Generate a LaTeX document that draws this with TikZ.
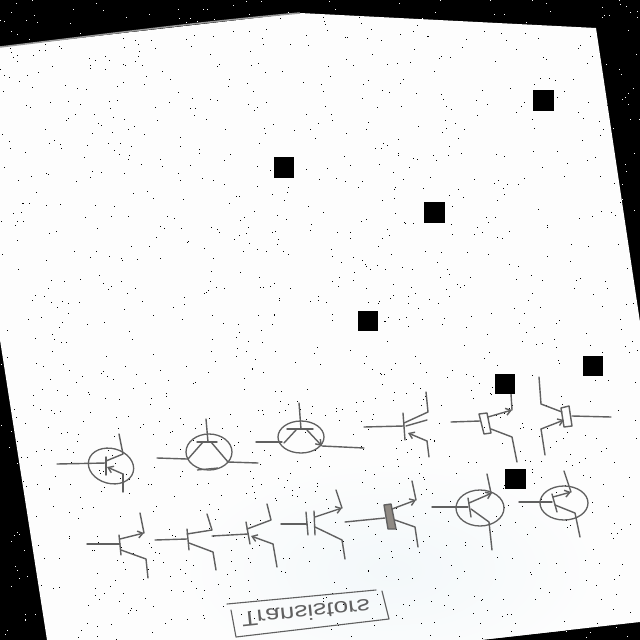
\documentclass[tikz,border=0pt]{standalone}
\usepackage{fontspec}
\setmainfont{Liberation Sans}
\usetikzlibrary{arrows.meta}
\definecolor{ink}{HTML}{606060}
\definecolor{pagecol}{HTML}{FDFDFD}
\definecolor{tint}{HTML}{F3F8FA}
\definecolor{boxgrey}{HTML}{8F8A84}
\tikzset{
  wire/.style={draw=ink,line width=1.4pt,line cap=round,line join=round},
  tipped/.style={wire,-{Straight Barb[length=5pt,width=7pt]}},
  ring/.style={draw=ink,line width=1.3pt},
  hole/.style={fill=black,draw=none},
  x=1pt,y=-1pt
}
\begin{document}
\begin{tikzpicture}
\useasboundingbox (0,0) rectangle (640,640);
\fill[black] (0,0) rectangle (640,640);
\pgfmathsetseed{731}
\foreach \i in {1,...,1400}{
  \pgfmathsetmacro{\px}{random(0,639)}
  \pgfmathsetmacro{\py}{random(0,639)}
  \fill[white] (\px,\py) rectangle ++(1,1);
}
% sheet
\fill[pagecol] (0,47) -- (300,13) -- (596,28) -- (640,322) -- (640,622) -- (480,640) -- (47,640) -- (0,340) -- cycle;
\begin{scope}
  \clip (0,47) -- (300,13) -- (596,28) -- (640,322) -- (640,622) -- (480,640) -- (47,640) -- (0,340) -- cycle;
  \shade[inner color=tint,outer color=pagecol] (390,570) ellipse [x radius=210pt,y radius=110pt];
  \pgfmathsetseed{2024}
  \foreach \i in {1,...,1300}{
    \pgfmathsetmacro{\px}{random(0,639)}
    \pgfmathsetmacro{\py}{random(0,639)}
    \fill[black] (\px,\py) rectangle ++(1,1);
  }
\end{scope}
\draw[draw=gray!80,line width=1.5pt] (0,47) .. controls (100,35) and (200,22) .. (300,13);

% top row
\draw[ring] (111,466) ellipse [x radius=23pt,y radius=17.5pt,rotate=-15];
\draw[wire] (57,464) -- (106,463);
\draw[wire] (106,457) -- (106,475);
\draw[wire] (106,461) -- (123,454) -- (119,434);
\draw[wire] (123,492) -- (123,474);
\draw[tipped] (123,474) -- (107,467);

\draw[ring] (209,452) ellipse [x radius=23pt,y radius=18pt];
\draw[wire] (157,458) -- (187,459);
\draw[wire] (228,462) -- (258,463);
\draw[wire] (206,419) -- (208,442);
\draw[wire] (197,442) -- (217,442);
\draw[wire] (203,442) -- (188,459);
\draw[wire] (211,442) -- (228,462);
\draw[ring] (197,470) -- (218,468);

\draw[ring] (301,437) ellipse [x radius=23pt,y radius=16pt];
\draw[wire] (256,442) -- (282,442);
\draw[wire] (322,446) -- (364,448);
\draw[wire] (299,403) -- (301,429);
\draw[wire] (287,429) -- (313,429);
\draw[wire] (296,430) -- (284,443);
\draw[tipped] (307,430) -- (322,446);

\draw[wire] (364,427) -- (404,426);
\draw[wire] (403,413) -- (405,440);
\draw[wire] (404,423) -- (428,412) -- (426,392);
\draw[wire] (406,426) -- (427,420);
\draw[wire] (429,457) -- (427,441);
\draw[tipped] (427,441) -- (408,433);

\draw[wire] (451,422) -- (480,421);
\draw[wire] (479,414) -- (487,413) -- (491,433) -- (484,434) -- cycle;
\draw[wire] (511,394) -- (512,410);
\draw[tipped] (488,417) -- (512,410);
\draw[wire] (491,429) -- (512,437) -- (517,462);

\draw[wire] (572,416) -- (611,417);
\draw[wire] (561,408) -- (569,406) -- (572,426) -- (564,427) -- cycle;
\draw[wire] (539,377) -- (541,404) -- (562,412);
\draw[wire] (545,455) -- (541,429);
\draw[tipped] (541,429) -- (564,420);

% bottom row
\draw[wire] (87,544) -- (120,544);
\draw[wire] (119,535) -- (121,555);
\draw[wire] (140,513) -- (144,533);
\draw[tipped] (120,539) -- (144,533);
\draw[wire] (121,550) -- (146,559) -- (148,578);

\draw[wire] (155,540) -- (187,539);
\draw[wire] (187,529) -- (189,550);
\draw[wire] (187,534) -- (212,530) -- (207,514);
\draw[wire] (189,543) -- (213,552) -- (216,570);

\draw[wire] (212,536) -- (248,534);
\draw[wire] (246,522) -- (250,544);
\draw[wire] (247,529) -- (271,520) -- (267,504);
\draw[wire] (277,567) -- (273,544);
\draw[tipped] (273,544) -- (251,536);

\draw[wire] (281,524) -- (307,524);
\draw[wire] (306,512) -- (308,535);
\draw[wire] (314,511) -- (315,535);
\draw[wire] (336,490) -- (342,508);
\draw[tipped] (315,517) -- (342,508);
\draw[wire] (315,527) -- (342,540) -- (345,559);

\draw[wire] (345,522) -- (385,518);
\draw[wire,fill=boxgrey] (384,505) -- (391,504) -- (396,529) -- (388,529) -- cycle;
\draw[wire] (412,481) -- (416,500);
\draw[tipped] (392,509) -- (416,500);
\draw[wire] (395,520) -- (415,527) -- (418,547);

\draw[ring] (480,508) ellipse [x radius=24pt,y radius=18pt];
\draw[wire] (432,507) -- (468,507);
\draw[wire] (468,498) -- (471,517);
\draw[wire] (487,474) -- (491,493);
\draw[tipped] (469,503) -- (492,493);
\draw[wire] (471,509) -- (489,522) -- (492,550);

\draw[ring] (564,503) ellipse [x radius=24pt,y radius=17pt];
\draw[wire] (519,502) -- (552,502);
\draw[wire] (552,494) -- (557,512);
\draw[wire] (564,471) -- (571,492);
\draw[tipped] (553,497) -- (571,492);
\draw[wire] (555,505) -- (575,513) -- (580,537);

% label box
\draw[wire,line width=1.1pt] (227,604) -- (376,590);
\draw[wire,line width=1.1pt] (231,610) -- (236,637) -- (389,619) -- (382,591);
\node[text=ink,font=\fontsize{21}{21}\selectfont,rotate=6,yscale=-1,xscale=1.25,transform shape,inner sep=0pt] (lab) at (306,613) {Transistors};

% square holes
\fill[hole] (533,90) rectangle (554,111);
\fill[hole] (274,157) rectangle (294,178);
\fill[hole] (424,202) rectangle (445,223);
\fill[hole] (358,311) rectangle (378,331);
\fill[hole] (495,374) rectangle (515,394);
\fill[hole] (583,356) rectangle (603,376);
\fill[hole] (505,469) rectangle (526,489);
\end{tikzpicture}
\end{document}
